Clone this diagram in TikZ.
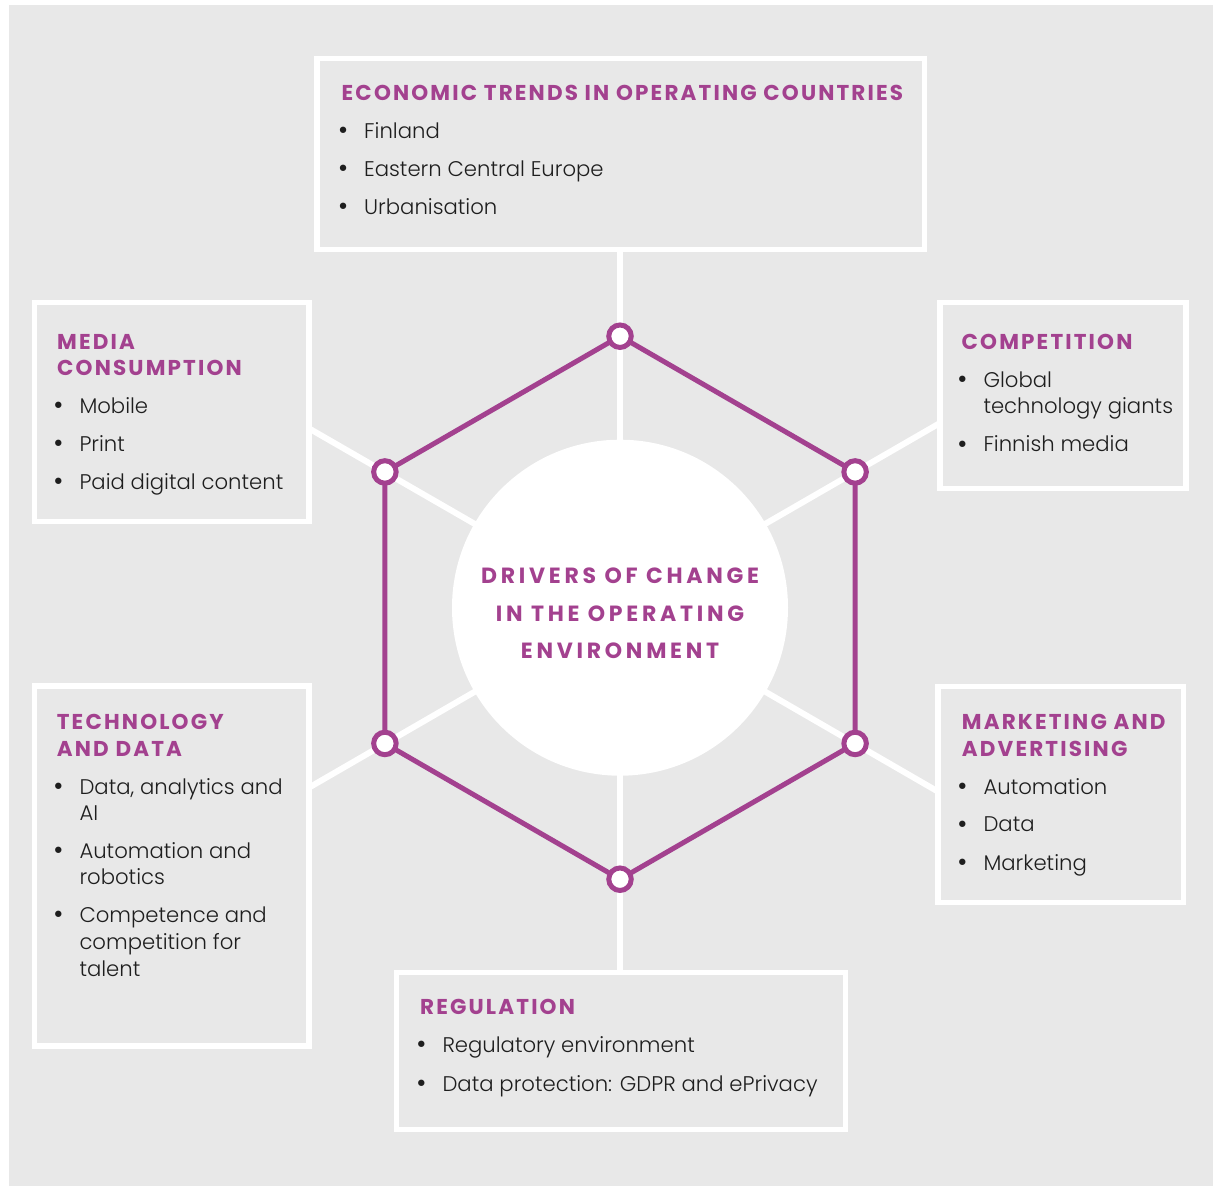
\documentclass[tikz,border=0pt]{standalone}
\usepackage{fontspec}
\setmainfont{Poppins}
\newfontfamily\bodyfont{Poppins}[UprightFont=* Light]
\newfontfamily\headfont{Poppins}[LetterSpace=10]
\newfontfamily\ctrfont{Poppins}[LetterSpace=17]
\definecolor{purp}{HTML}{A3418F}
\definecolor{bg}{HTML}{E8E8E8}
\definecolor{ink}{HTML}{1E1E1E}
\newcommand\boxat[5]{\node[boxst, minimum width={#4-#2}, minimum height={#5-#3}] (#1) at ({(#2+#4)/2},{(#3+#5)/2}) {};}
\newcommand\hdl[4]{\node[hd] (#1) at (#2,#3) {#4};}
\newcommand\bitem[4]{\node[bt] (#1) at (#2,#3) {\makebox[0pt][r]{\raisebox{-1.4pt}{\scalebox{1.3}{\textbullet}}\hspace{16pt}}#4};}
\newcommand\cont[4]{\node[bt] (#1) at (#2,#3) {#4};}
\begin{document}
\begin{tikzpicture}[x=1pt,y=-1pt,
  boxst/.style={rectangle, draw=white, line width=5.5pt, fill=bg, inner sep=0pt, outer sep=0pt},
  spoke/.style={draw=white, line width=6pt},
  hex/.style={draw=purp, line width=5pt, line join=round},
  vtx/.style={circle, draw=purp, fill=white, line width=5pt, minimum size=22.5pt, inner sep=0pt},
  hd/.style={anchor=base west, text=purp, font=\headfont\bfseries\fontsize{21.5}{21.5}\selectfont, inner sep=0pt},
  ctr/.style={anchor=base, text=purp, font=\ctrfont\bfseries\fontsize{22}{22}\selectfont, inner sep=0pt},
  bt/.style={anchor=base west, text=ink, font=\bodyfont\fontsize{21.2}{21.2}\selectfont, inner sep=0pt}]
\useasboundingbox (0,0) rectangle (1213,1186);
\fill[bg] (9,5) rectangle (1213,1186);
% spokes
\coordinate (hubc) at (620,607.7);
\coordinate (eT) at (620,249.5);
\coordinate (eTR) at (940,423);
\coordinate (eTL) at (309,428.4);
\coordinate (eBL) at (309,787.6);
\coordinate (eBR) at (938,791.6);
\coordinate (eB) at (620,972.5);
\foreach \e in {eT,eTR,eTL,eBL,eBR,eB} \draw[spoke] (hubc) -- (\e);
% hub
\node[circle, fill=white, minimum size=336pt, inner sep=0pt] (hub) at (hubc) {};
% boxes
\boxat{btop}{317}{58.5}{924.5}{249.5}
\boxat{bmedia}{34.5}{302.5}{309}{521.5}
\boxat{bcomp}{940}{302.5}{1186}{488.5}
\boxat{btech}{34.5}{686}{309}{1046}
\boxat{bmark}{938}{686.5}{1183.3}{902.5}
\boxat{breg}{396.5}{972.5}{845.5}{1129.5}
% hexagon
\coordinate (v1) at (620,336.2);
\coordinate (v2) at (855.1,471.95);
\coordinate (v3) at (855.1,743.45);
\coordinate (v4) at (620,879.2);
\coordinate (v5) at (384.9,743.45);
\coordinate (v6) at (384.9,471.95);
\draw[hex] (v1) -- (v2) -- (v3) -- (v4) -- (v5) -- (v6) -- cycle;
\foreach \v in {v1,v2,v3,v4,v5,v6} \node[vtx] (n\v) at (\v) {};
% centre text
\node[ctr] (c1) at (620,583.3) {DRIVERS OF CHANGE};
\node[ctr] (c2) at (620,621) {IN THE OPERATING};
\node[ctr] (c3) at (620,658.3) {ENVIRONMENT};
% top box
\hdl{h1}{341.5}{100}{ECONOMIC TRENDS IN OPERATING COUNTRIES}
\bitem{t1}{364}{138.3}{Finland}
\bitem{t2}{364}{176}{Eastern Central Europe}
\bitem{t3}{364}{214}{Urbanisation}
% media
\hdl{h2a}{57}{349.3}{MEDIA}
\hdl{h2b}{57}{375.3}{CONSUMPTION}
\bitem{m1}{79.3}{413}{Mobile}
\bitem{m2}{79.3}{451}{Print}
\bitem{m3}{79.3}{489}{Paid digital content}
% competition
\hdl{h3}{961.5}{349.3}{COMPETITION}
\bitem{k1}{983.3}{387.3}{Global}
\cont{k1b}{983.3}{413.3}{technology giants}
\bitem{k2}{983.3}{451.7}{Finnish media}
% technology
\hdl{h4a}{56.7}{729.3}{TECHNOLOGY}
\hdl{h4b}{56.7}{756}{AND DATA}
\bitem{d1}{79.3}{794}{Data, analytics and}
\cont{d1b}{79.3}{820}{AI}
\bitem{d2}{79.3}{858.3}{Automation and}
\cont{d2b}{79.3}{884}{robotics}
\bitem{d3}{79.3}{922.3}{Competence and}
\cont{d3b}{79.3}{949.3}{competition for}
\cont{d3c}{79.3}{976.7}{talent}
% marketing
\hdl{h5a}{961.7}{729.3}{MARKETING AND}
\hdl{h5b}{961.7}{756}{ADVERTISING}
\bitem{a1}{983.3}{794}{Automation}
\bitem{a2}{983.3}{831.7}{Data}
\bitem{a3}{983.3}{870}{Marketing}
% regulation
\hdl{h6}{420}{1014.3}{REGULATION}
\bitem{r1}{442.3}{1052.3}{Regulatory environment}
\bitem{r2}{442.3}{1091}{Data protection: GDPR and ePrivacy}
\end{tikzpicture}
\end{document}
